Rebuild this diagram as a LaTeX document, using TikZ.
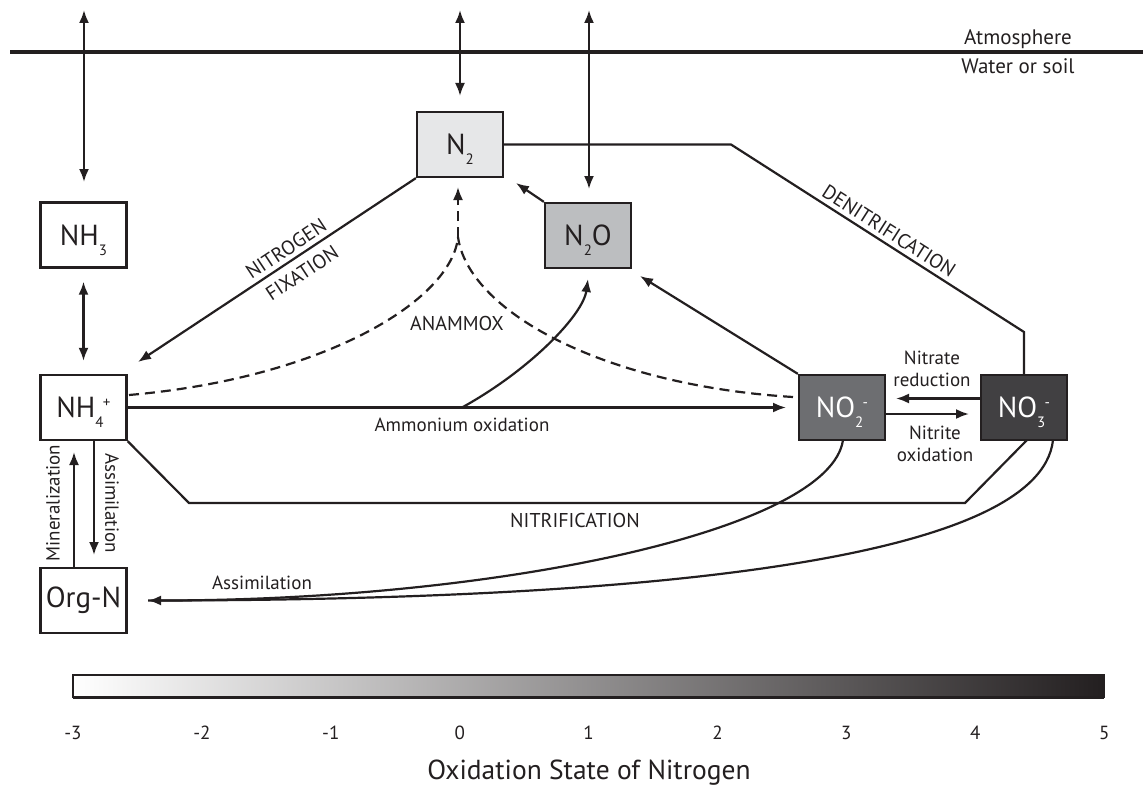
\documentclass[tikz,border=0pt]{standalone}
\usepackage{fontspec}
\setmainfont{PT Sans}
\usetikzlibrary{arrows.meta}
\definecolor{ink}{HTML}{231F20}
\definecolor{fillNtwo}{HTML}{E6E7E8}
\definecolor{fillNtwoO}{HTML}{BCBEC0}
\definecolor{fillNOtwo}{HTML}{6D6E71}
\definecolor{fillNOthree}{HTML}{414042}
\newcommand{\fsz}[1]{\fontsize{#1}{#1}\selectfont}
\newcommand{\csub}[1]{\smash{\raisebox{-10pt}{\fsz{15}#1}}}
\newcommand{\csubsup}[2]{\smash{\makebox[0pt][l]{\raisebox{-10pt}{\fsz{15}#1}}\hspace{7.5pt}\raisebox{10pt}{\fsz{15}#2}}}
\begin{document}
\begin{tikzpicture}[x=1pt,y=-1pt,color=ink,
  >={Latex[length=13pt,width=10pt]},
  box/.style={draw=ink,line width=2.3pt,minimum width=86pt,minimum height=65pt,inner sep=0pt,font=\fsz{29}},
  conn/.style={line width=2.2pt},
  dashconn/.style={line width=2.2pt,dash pattern=on 10pt off 6pt},
  lbl/.style={font=\fsz{19},inner sep=0pt,align=center},
  caps/.style={font=\fsz{20},inner sep=0pt,align=center},
  tick/.style={font=\fsz{19},inner sep=0pt},
]
\useasboundingbox (0,0) rectangle (1143,789);

% atmosphere / water boundary
\coordinate (atmL) at (10,52);
\coordinate (atmR) at (1143,52);
\draw[line width=4.8pt] (atmL) -- (atmR);
\node[font=\fsz{21},inner sep=0pt] (atm) at (1018,39) {Atmosphere};
\node[font=\fsz{21},inner sep=0pt] (wat) at (1018,66) {Water or soil};

% boxes
\node[box] (NH3) at (83.5,235) {NH\csub{3}};
\node[box,fill=fillNtwo] (N2) at (460,144.5) {N\csub{2}};
\node[box,fill=fillNtwoO] (N2O) at (588,235.5) {N\csub{2}O};
\node[box] (NH4) at (83.5,407.5) {NH\csubsup{4}{+}};
\node[box] (OrgN) at (83.5,600.5) {Org-N};
\node[box,fill=fillNOtwo,text=white] (NO2) at (842,407.5) {NO\csubsup{2}{-}};
\node[box,fill=fillNOthree,text=white] (NO3) at (1024,407.5) {NO\csubsup{3}{-}};

% exchange with atmosphere
\coordinate (t1) at (84,10);  \coordinate (b1) at (84,182);
\coordinate (t2) at (460,10); \coordinate (b2) at (460,96);
\coordinate (t3) at (589,10); \coordinate (b3) at (589,189);
\draw[conn,<->] (t1) -- (b1);
\draw[conn,<->] (t2) -- (b2);
\draw[conn,<->] (t3) -- (b3);

% NH3 <-> NH4
\draw[conn,<->,shorten <=13pt,shorten >=13pt] (NH3.south) -- (NH4.north);

% nitrogen fixation
\coordinate (nfTip) at (138,362);
\draw[conn,->] (N2.south west) -- (nfTip);
\node[caps,rotate=33.5] (nfL) at (294,261) {NITROGEN\\[9pt]FIXATION};

% denitrification
\coordinate (dn1) at (731,144.5);
\coordinate (dn2) at (1024,332);
\draw[conn] (N2.east) -- (dn1) -- (dn2) -- (NO3.north);
\node[caps,rotate=-32.6] (dnL) at (889,231) {DENITRIFICATION};

% N2O -> N2
\coordinate (n2oTip) at (516,183);
\draw[conn,->] (N2O.north west) -- (n2oTip);

% NO2 -> N2O
\coordinate (no2Tip) at (640,276);
\draw[conn,->] (NO2.north west) -- (no2Tip);

% ammonium oxidation
\coordinate (aoTip) at (786,407.5);
\draw[conn,->] (NH4.east) -- (aoTip);
\node[lbl] (aoL) at (462,425) {Ammonium oxidation};
\coordinate (ao) at (462,407.5);
\coordinate (aoN2O) at (588,279);
\draw[conn,->] (ao) .. controls (530,370) and (583,315) .. (aoN2O);

% anammox
\coordinate (cusp) at (458,237);
\coordinate (anTip) at (458,187);
\coordinate (anL) at (129,395);
\coordinate (anR) at (793,397);
\draw[dashconn] (anL) .. controls (325,378) and (452,300) .. (cusp);
\draw[dashconn] (anR) .. controls (600,385) and (468,310) .. (cusp);
\draw[dashconn,->] (cusp) -- (anTip);
\node[caps] (anLbl) at (457,323) {ANAMMOX};

% nitrate reduction / nitrite oxidation
\coordinate (nrTip) at (896,398.5);
\coordinate (noTip) at (969,414);
\draw[conn,->] (NO3.west |- nrTip) -- (nrTip);
\draw[conn,->] (NO2.east |- noTip) -- (noTip);
\node[lbl] (nrL) at (932,369) {Nitrate\\[3pt]reduction};
\node[lbl] (noL) at (935,444) {Nitrite\\[3pt]oxidation};

% nitrification
\coordinate (nt1) at (189,503);
\coordinate (nt2) at (965,503);
\coordinate (nt3) at (1027,440);
\draw[conn] (NH4.south east) -- (nt1) -- (nt2) -- (nt3);
\node[caps] (ntL) at (575,520) {NITRIFICATION};

% assimilation of NO2 / NO3
\coordinate (orgTip) at (148,600.5);
\coordinate (no2b) at (843,440);
\coordinate (no3b) at (1053,440);
\draw[conn] (no3b) .. controls (1040,560) and (650,600.5) .. (orgTip);
\draw[conn,->] (no2b) .. controls (830,530) and (500,600.5) .. (orgTip);
\node[lbl] (asL) at (262,583) {Assimilation};

% NH4 <-> Org-N
\coordinate (asTop) at (94,440);
\coordinate (asTip) at (94,555);
\coordinate (mnBot) at (74,568);
\coordinate (mnTip) at (74,452);
\draw[conn,->] (asTop) -- (asTip);
\draw[conn,->] (mnBot) -- (mnTip);
\node[lbl,rotate=-90] (asV) at (112,503) {Assimilation};
\node[lbl,rotate=90] (mnV) at (53,503) {Mineralization};

% oxidation-state scale
\shade[left color=white,right color=ink] (73,675) rectangle (1104,697);
\draw[line width=1.5pt] (73,675) rectangle (1104,697);
\draw[line width=3pt] (73,697) -- (1104,697);
\foreach \v [count=\i from 0] in {-3,-2,-1,0,1,2,3,4,5}{
  \node[tick] (tk\i) at ({73+\i*128.9},733) {\v};
}
\node[font=\fsz{27.5},inner sep=0pt] (axis) at (589,773) {Oxidation State of Nitrogen};
\end{tikzpicture}
\end{document}
